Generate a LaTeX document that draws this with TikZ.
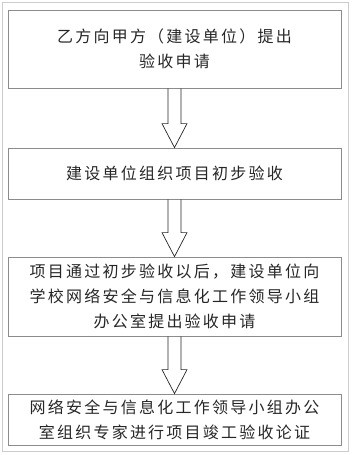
\documentclass[tikz,border=0pt]{standalone}
\usepackage{fontspec}
\newfontfamily\cjk[LetterSpace=14]{Noto Sans CJK SC}
\usetikzlibrary{calc}
\tikzset{
  stepbox/.style={draw=black!45, line width=0.8pt, minimum width=333pt, inner sep=0pt, align=center, text=black!85,
    font=\cjk\fontsize{16}{25}\selectfont},
  arr/.style={draw=black!85, line width=0.7pt, line join=miter},
  frame/.style={draw=black!20, line width=0.8pt}
}
\newcommand{\hollowarrow}[2]{%
  \path[arr] let \p1=(#1.south), \p2=(#2.north) in
    (\x1-6.5pt,\y1) -- (\x1-6.5pt,\y2+24pt) -- (\x1-12.5pt,\y2+24pt) -- (\x1,\y2)
    -- (\x1+12.5pt,\y2+24pt) -- (\x1+6.5pt,\y2+24pt) -- (\x1+6.5pt,\y1);}
\begin{document}
\begin{tikzpicture}[x=1pt,y=-1pt]
\useasboundingbox (0,0) rectangle (352,455);
\draw[frame] (2.5,2.5) rectangle (348.5,451.5);
\node[stepbox, minimum height=78pt] (b1) at (174.5,49) {乙方向甲方（建设单位）提出\\验收申请};
\node[stepbox, minimum height=51pt] (b2) at (174.5,173.5) {建设单位组织项目初步验收};
\node[stepbox, minimum height=79pt] (b3) at (174.5,296.5) {项目通过初步验收以后，建设单位向\\学校网络安全与信息化工作领导小组\\办公室提出验收申请};
\node[stepbox, minimum height=51pt] (b4) at (174.5,419.5) {网络安全与信息化工作领导小组办公\\室组织专家进行项目竣工验收论证};
\hollowarrow{b1}{b2}
\hollowarrow{b2}{b3}
\hollowarrow{b3}{b4}
\end{tikzpicture}
\end{document}
